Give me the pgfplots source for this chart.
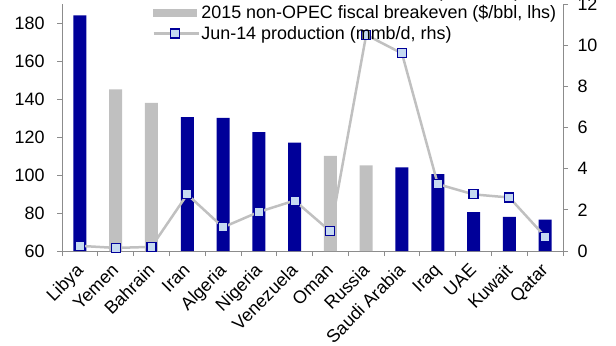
\documentclass[border=0pt]{standalone}
\usepackage{fontspec}
\setmainfont{Liberation Sans}
\usepackage{pgfplots}
\pgfplotsset{compat=1.18}
\definecolor{opec}{RGB}{0,0,153}
\definecolor{nonopec}{RGB}{192,192,192}
\definecolor{mk}{RGB}{197,217,241}
\definecolor{axc}{RGB}{140,140,140}
\begin{document}
\begin{tikzpicture}
\useasboundingbox (0bp,0bp) rectangle (616bp,346bp);
\pgfplotsset{
  common/.style={
    at={(62bp,95bp)}, anchor=south west, scale only axis,
    width=501bp, height=247bp, xmin=-0.5, xmax=13.5,
    tick align=outside, major tick length=5bp, minor tick length=5bp,
    axis line style={axc, line width=1pt},
    every tick/.style={axc, line width=0.8pt},
    /pgf/number format/assume math mode=true,
    tick label style={font=\fontsize{18}{20}\selectfont},
    clip=false,
  }
}
\begin{axis}[common,
  ymin=60, ymax=190, axis y line*=left, axis x line*=bottom,
  ytick={60,80,...,180},
  y tick label style={xshift=-9bp},
  xtick={0,...,13},
  xticklabels={Libya,Yemen,Bahrain,Iran,Algeria,Nigeria,Venezuela,Oman,Russia,Saudi Arabia,Iraq,UAE,Kuwait,Qatar},
  x tick label style={xshift=-5bp, yshift=-5bp, rotate=45, anchor=north east, inner sep=1bp},
  major x tick style={draw=none},
  minor xtick={-0.5,0.5,...,13.5},
  ybar, bar width=13bp,
]
\addplot[fill=opec, draw=none, bar shift=0pt] coordinates {
(0,184) (3,130.5) (4,130) (5,122.5) (6,117) (9,104) (10,100.5) (11,80.5) (12,78) (13,76.5)};
\addplot[fill=nonopec, draw=none, bar shift=0pt] coordinates {
(1,145) (2,138) (7,110) (8,105)};
\end{axis}
\begin{axis}[common,
  ymin=0, ymax=12, axis y line*=right, axis x line=none,
  ytick={0,2,...,12},
  y tick label style={xshift=6bp},
  legend cell align=left,
  legend style={at={(rel axis cs:0.18,1.085)}, anchor=north west, draw=none, fill=none,
    font=\fontsize{18}{20}\selectfont, row sep=3bp, inner sep=0pt,
    nodes={inner sep=1.5bp}},
]
\addlegendimage{legend image code/.code={\fill[opec] (0bp,-3.5bp) rectangle (43bp,3.5bp);}}
\addlegendentry{2015 OPEC fiscal breakeven (\$/bbl, lhs)}
\addlegendimage{legend image code/.code={\fill[nonopec] (0bp,-3.5bp) rectangle (43bp,3.5bp);}}
\addlegendentry{2015 non-OPEC fiscal breakeven (\$/bbl, lhs)}
\addplot[color=nonopec, line width=2.5bp, mark=square*,
  mark options={fill=mk, draw=opec, line width=1.1bp}, mark size=4.5bp,
  legend image code/.code={\draw[nonopec, line width=2.5bp] (0bp,0bp) -- (45bp,0bp);
    \draw[fill=mk, draw=opec, line width=1.1bp] (17bp,-4.5bp) rectangle (26bp,4.5bp);}]
coordinates {
(0,0.25) (1,0.15) (2,0.2) (3,2.75) (4,1.15) (5,1.9) (6,2.45) (7,0.95) (8,10.5) (9,9.6) (10,3.25) (11,2.75) (12,2.6) (13,0.7)};
\addlegendentry{Jun-14 production (mmb/d, rhs)}
\end{axis}
\end{tikzpicture}
\end{document}
